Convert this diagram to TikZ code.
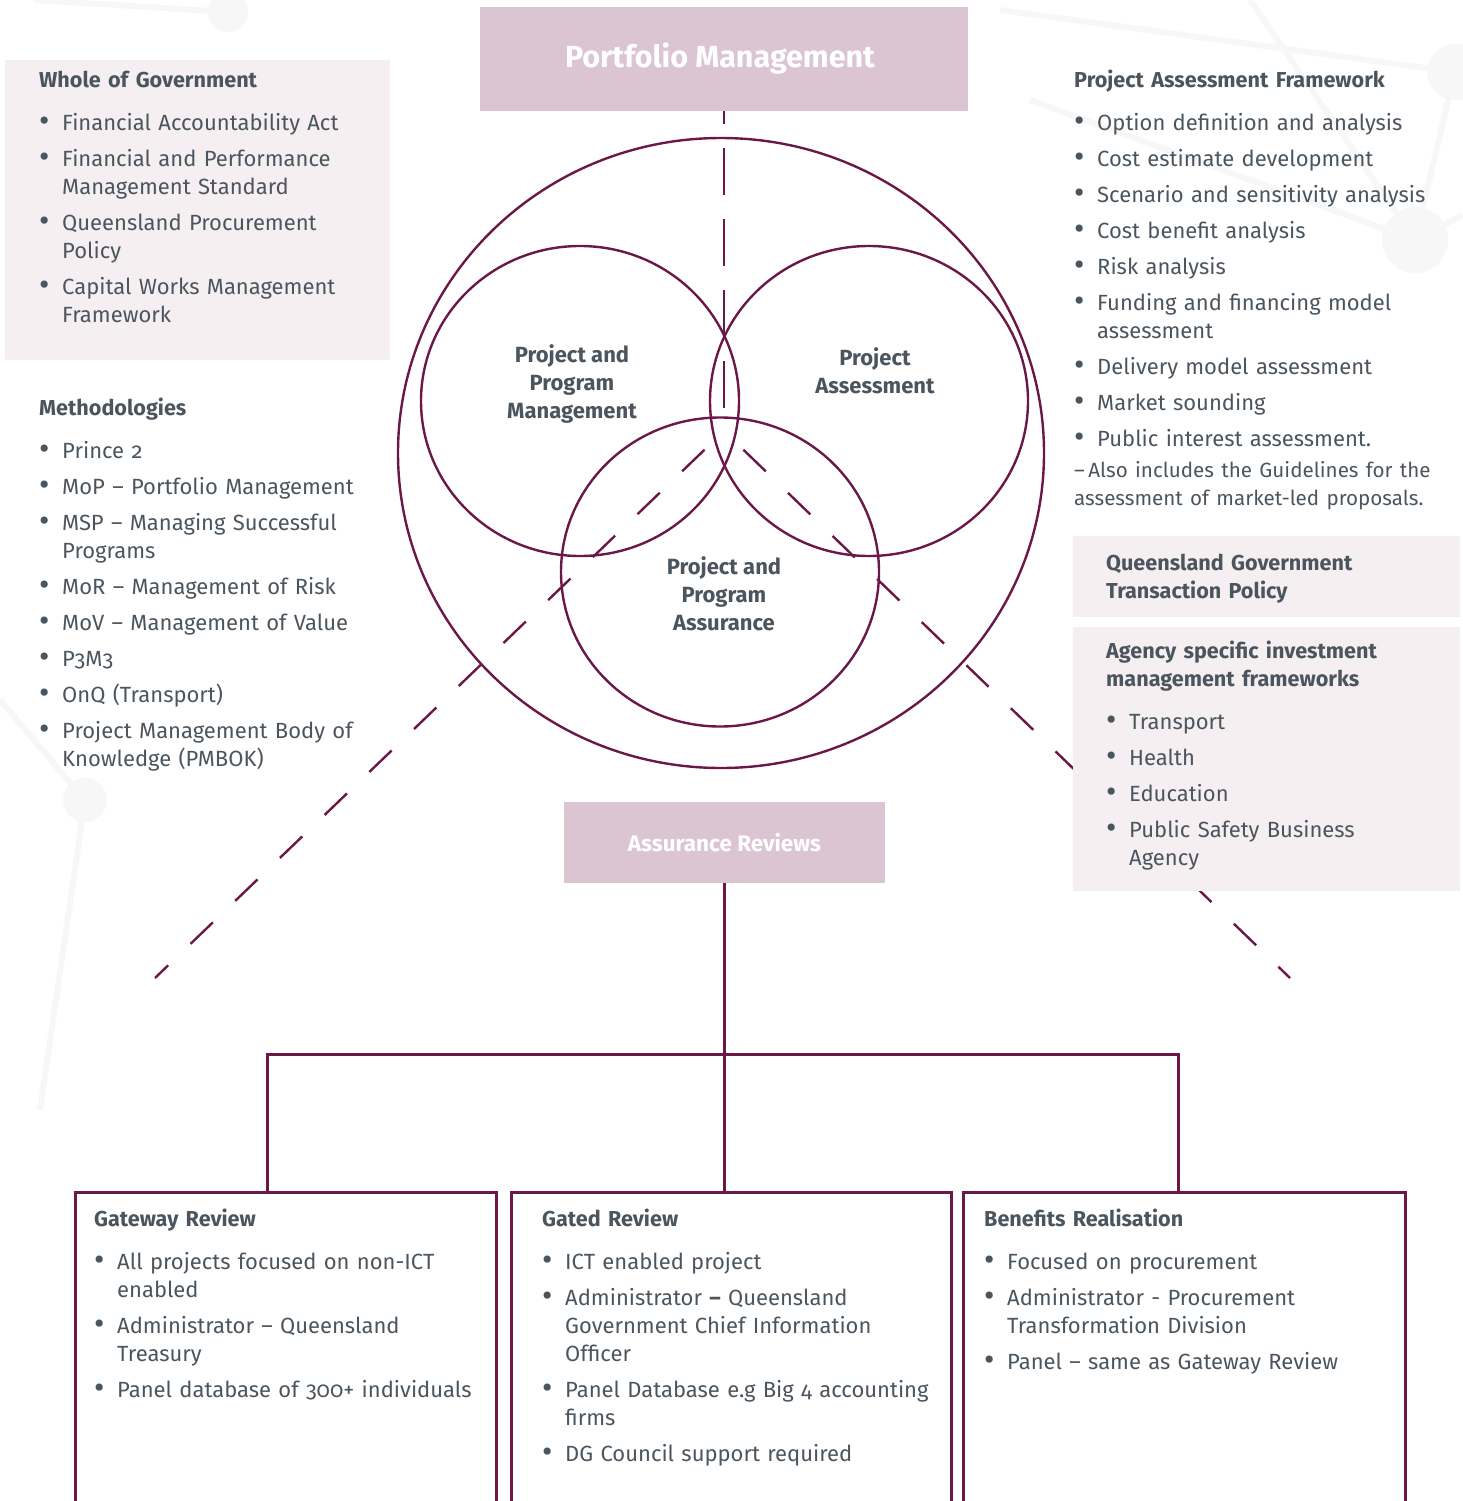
\documentclass[tikz,border=0pt]{standalone}
\usepackage{fontspec}
\setmainfont{Fira Sans}[Numbers=OldStyle]
\usetikzlibrary{calc}

\definecolor{qgplum}{HTML}{6B1848}
\definecolor{qgpink}{HTML}{DCC5D2}
\definecolor{qgpale}{HTML}{F5EFF2}
\definecolor{qgtext}{HTML}{4B555E}
\definecolor{qgfaint}{HTML}{F7F7F7}

\newlength\bulind
\setlength\bulind{23pt}
\newcommand\panelhead[1]{\rule{0pt}{20pt}{\fontsize{21.6}{28}\selectfont\bfseries #1}\par\vspace{15pt}}
\newcommand\bitem[1]{\hangindent=\bulind\hangafter=1\noindent\makebox[\bulind][l]{\raisebox{-1.6pt}{\scalebox{1.45}{\textbullet}}}#1\par\vspace{8pt}}

\tikzset{
  panel/.style={anchor=north west, inner sep=0pt, text width=#1, align=left,
    text=qgtext, font=\fontsize{22}{28}\selectfont},
  panel/.default=420pt,
  titlebox/.style={fill=qgpink, text=white, inner sep=0pt},
  ring/.style={draw=qgplum, line width=2.4pt},
  spoke/.style={draw=qgplum, line width=2.4pt, dash pattern=on 31pt off 31pt, dash phase=35pt},
  tree/.style={draw=qgplum, line width=3pt},
  revbox/.style={draw=qgplum, line width=3pt, anchor=north west, minimum height=340pt, inner sep=0pt},
  clabel/.style={align=center, text=qgtext, font=\fontsize{22}{28}\selectfont\bfseries},
  faint/.style={draw=qgfaint, line width=6pt}
}

\begin{document}
\begin{tikzpicture}[x=1pt,y=-1pt]
\useasboundingbox (0,0) rectangle (1463,1501);

% faint network in the background
\draw[faint] (1000,10) -- (1455,72) -- (1415,240) -- (1030,100);
\draw[faint] (1250,0) -- (1415,240) -- (1463,215);
\draw[faint] (228,12) -- (35,0);
\draw[faint] (0,700) -- (85,800) -- (40,1110);
\fill[qgfaint] (228,12) circle [radius=20];
\fill[qgfaint] (1455,72) circle [radius=28];
\fill[qgfaint] (1415,240) circle [radius=33];
\fill[qgfaint] (85,800) circle [radius=22];

% pale panel on the left
\fill[qgpale] (5,60) rectangle (390,360);

% title boxes
\node[titlebox, minimum width=488pt, minimum height=104pt,
  font=\fontsize{30.5}{34}\selectfont\bfseries] (pm) at (724,59) {\hspace*{-8pt}\raisebox{2pt}{Portfolio Management}};
\node[titlebox, minimum width=321pt, minimum height=81pt,
  font=\fontsize{22.5}{26}\selectfont\bfseries] (ar) at (724.5,842.5) {\raisebox{1pt}{Assurance Reviews}};

% dashed guides
\coordinate (vend) at (724,415);
\coordinate (apex) at (724,431);
\coordinate (dl) at (155,978);
\coordinate (dr) at (1290,978);
\draw[qgplum, line width=2.4pt, dash pattern=on 47pt off 24pt, dash phase=34pt] (pm.south) -- (vend);
\draw[spoke] (apex) -- (dl);
\draw[spoke] (apex) -- (dr);

% pale panels on the right, over the guide
\fill[qgpale] (1073,536) rectangle (1460,617);
\fill[qgpale] (1073,627) rectangle (1460,891);

% circles
\draw[ring] (721,453) ellipse [x radius=323, y radius=315];
\draw[ring] (580,401) ellipse [x radius=159, y radius=155];
\draw[ring] (869,401) ellipse [x radius=159, y radius=155];
\draw[ring] (720,572) ellipse [x radius=159, y radius=154.5];

\node[clabel] (ppm) at (572,384) {Project and\\Program\\Management};
\node[clabel] (pa) at (875,371) {Project\\Assessment};
\node[clabel] (ppa) at (724,594) {Project and\\Program\\Assurance};

% left column
\node[panel] (wog) at (39,67) {%
  \panelhead{Whole of Government}
  \bitem{Financial Accountability Act}
  \bitem{Financial and Performance\newline Management Standard}
  \bitem{Queensland Procurement\newline Policy}
  \bitem{Capital Works Management\newline Framework}};

\node[panel] (meth) at (39,395) {%
  \panelhead{Methodologies}
  \bitem{Prince 2}
  \bitem{MoP -- Portfolio Management}
  \bitem{MSP -- Managing Successful\newline Programs}
  \bitem{MoR -- Management of Risk}
  \bitem{MoV -- Management of Value}
  \bitem{P3M3}
  \bitem{OnQ (Transport)}
  \bitem{Project Management Body of\newline Knowledge (PMBOK)}};

% right column
\node[panel] (paf) at (1074,67) {%
  \panelhead{Project Assessment Framework}
  \bitem{Option definition and analysis}
  \bitem{Cost estimate development}
  \bitem{Scenario and sensitivity analysis}
  \bitem{Cost benefit analysis}
  \bitem{Risk analysis}
  \bitem{Funding and financing model\newline assessment}
  \bitem{Delivery model assessment}
  \bitem{Market sounding}
  \bitem{Public interest assessment.}
  \vspace{-5pt}\noindent{\fontsize{20.6}{28}\selectfont --\,Also includes the Guidelines for the\newline assessment of market-led proposals.\par}};

\node[panel] (qgtp) at (1106,550) {%
  \panelhead{Queensland Government\newline Transaction Policy}};

\node[panel] (aim) at (1106,638) {%
  \panelhead{Agency specific investment\newline management frameworks}
  \bitem{Transport}
  \bitem{Health}
  \bitem{Education}
  \bitem{Public Safety Business\newline Agency}};

% review boxes
\node[revbox, minimum width=421pt] (gw) at (74,1191) {};
\node[revbox, minimum width=440pt] (gd) at (510,1191) {};
\node[revbox, minimum width=442pt] (br) at (962,1191) {};

\coordinate (jl) at (267,1054);
\coordinate (jr) at (1178,1054);
\draw[tree] (ar.south) -- (ar.south |- gd.north);
\draw[tree] (jl |- gw.north) -- (jl) -- (jr) -- (jr |- br.north);

\node[panel] (gwt) at (94,1206) {%
  \panelhead{Gateway Review}
  \bitem{All projects focused on non-ICT\newline enabled}
  \bitem{Administrator -- Queensland\newline Treasury}
  \bitem{Panel database of 300+ individuals}};

\node[panel] (gdt) at (542,1206) {%
  \panelhead{Gated Review}
  \bitem{ICT enabled project}
  \bitem{Administrator \textbf{--} Queensland\newline Government Chief Information\newline Officer}
  \bitem{Panel Database e.g Big 4 accounting\newline firms}
  \bitem{DG Council support required}};

\node[panel] (brt) at (984,1206) {%
  \panelhead{Benefits Realisation}
  \bitem{Focused on procurement}
  \bitem{Administrator - Procurement\newline Transformation Division}
  \bitem{Panel -- same as Gateway Review}};

\end{tikzpicture}
\end{document}
